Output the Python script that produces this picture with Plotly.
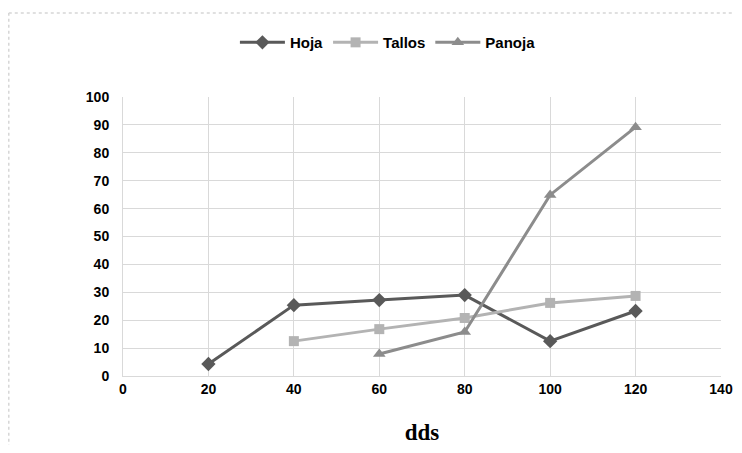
import plotly.graph_objects as go

hoja_x = [20, 40, 60, 80, 100, 120]
hoja_y = [4.3, 25.4, 27.2, 29.0, 12.5, 23.3]
tallos_x = [40, 60, 80, 100, 120]
tallos_y = [12.5, 16.8, 20.8, 26.2, 28.7]
panoja_x = [60, 80, 100, 120]
panoja_y = [7.9, 15.8, 64.9, 89.2]
x_ticks = [0, 20, 40, 60, 80, 100, 120, 140]
y_ticks = [0, 10, 20, 30, 40, 50, 60, 70, 80, 90, 100]

tick_font = dict(family="Liberation Sans Narrow, Liberation Sans, Arial", size=14, color="#000000")

fig = go.Figure()
fig.add_trace(go.Scatter(x=hoja_x, y=hoja_y, name="<b>Hoja</b>", mode="lines+markers",
                         line=dict(color="#595959", width=3),
                         marker=dict(symbol="diamond", size=11, color="#595959")))
fig.add_trace(go.Scatter(x=tallos_x, y=tallos_y, name="<b>Tallos</b>", mode="lines+markers",
                         line=dict(color="#b3b3b3", width=3),
                         marker=dict(symbol="square", size=10, color="#b3b3b3")))
fig.add_trace(go.Scatter(x=panoja_x, y=panoja_y, name="<b>Panoja</b>", mode="lines+markers",
                         line=dict(color="#8c8c8c", width=3),
                         marker=dict(symbol="triangle-up", size=11, color="#8c8c8c")))

fig.update_layout(
    width=726, height=437,
    margin=dict(l=115, r=13, t=89, b=69),
    paper_bgcolor="white", plot_bgcolor="white",
    legend=dict(orientation="h", x=0.443, y=1.195, xanchor="center", yanchor="middle",
                font=dict(family="Liberation Sans Narrow, Liberation Sans, Arial", size=15, color="#000"),
                itemwidth=45, tracegroupgap=0),
    xaxis=dict(range=[0, 140], tickvals=x_ticks, ticktext=["<b>%d</b>" % v for v in x_ticks],
               showgrid=True, gridcolor="#d9d9d9", gridwidth=1, zeroline=False,
               showline=True, linecolor="#d9d9d9", tickfont=tick_font, ticks="",
               ticklabeloverflow="allow", automargin=False,
               title=dict(text="<b>dds</b>", font=dict(family="Liberation Serif, Times New Roman, serif", size=23, color="#000"), standoff=30)),
    yaxis=dict(range=[0, 100], tickvals=y_ticks, ticktext=["<b>%d</b>" % v for v in y_ticks],
               showgrid=True, gridcolor="#d9d9d9", gridwidth=1, zeroline=False,
               showline=True, linecolor="#d9d9d9", tickfont=tick_font, ticks="", ticklabelstandoff=10),
    shapes=[
        dict(type="line", xref="paper", yref="paper", x0=-0.191, x1=-0.191, y0=-0.3, y1=1.301,
             line=dict(color="#d6d6d6", width=1.5, dash="dot")),
        dict(type="line", xref="paper", yref="paper", x0=-0.191, x1=1.05, y0=1.301, y1=1.301,
             line=dict(color="#d6d6d6", width=1.5, dash="dot")),
    ],
)

fig.write_html("out.html")
